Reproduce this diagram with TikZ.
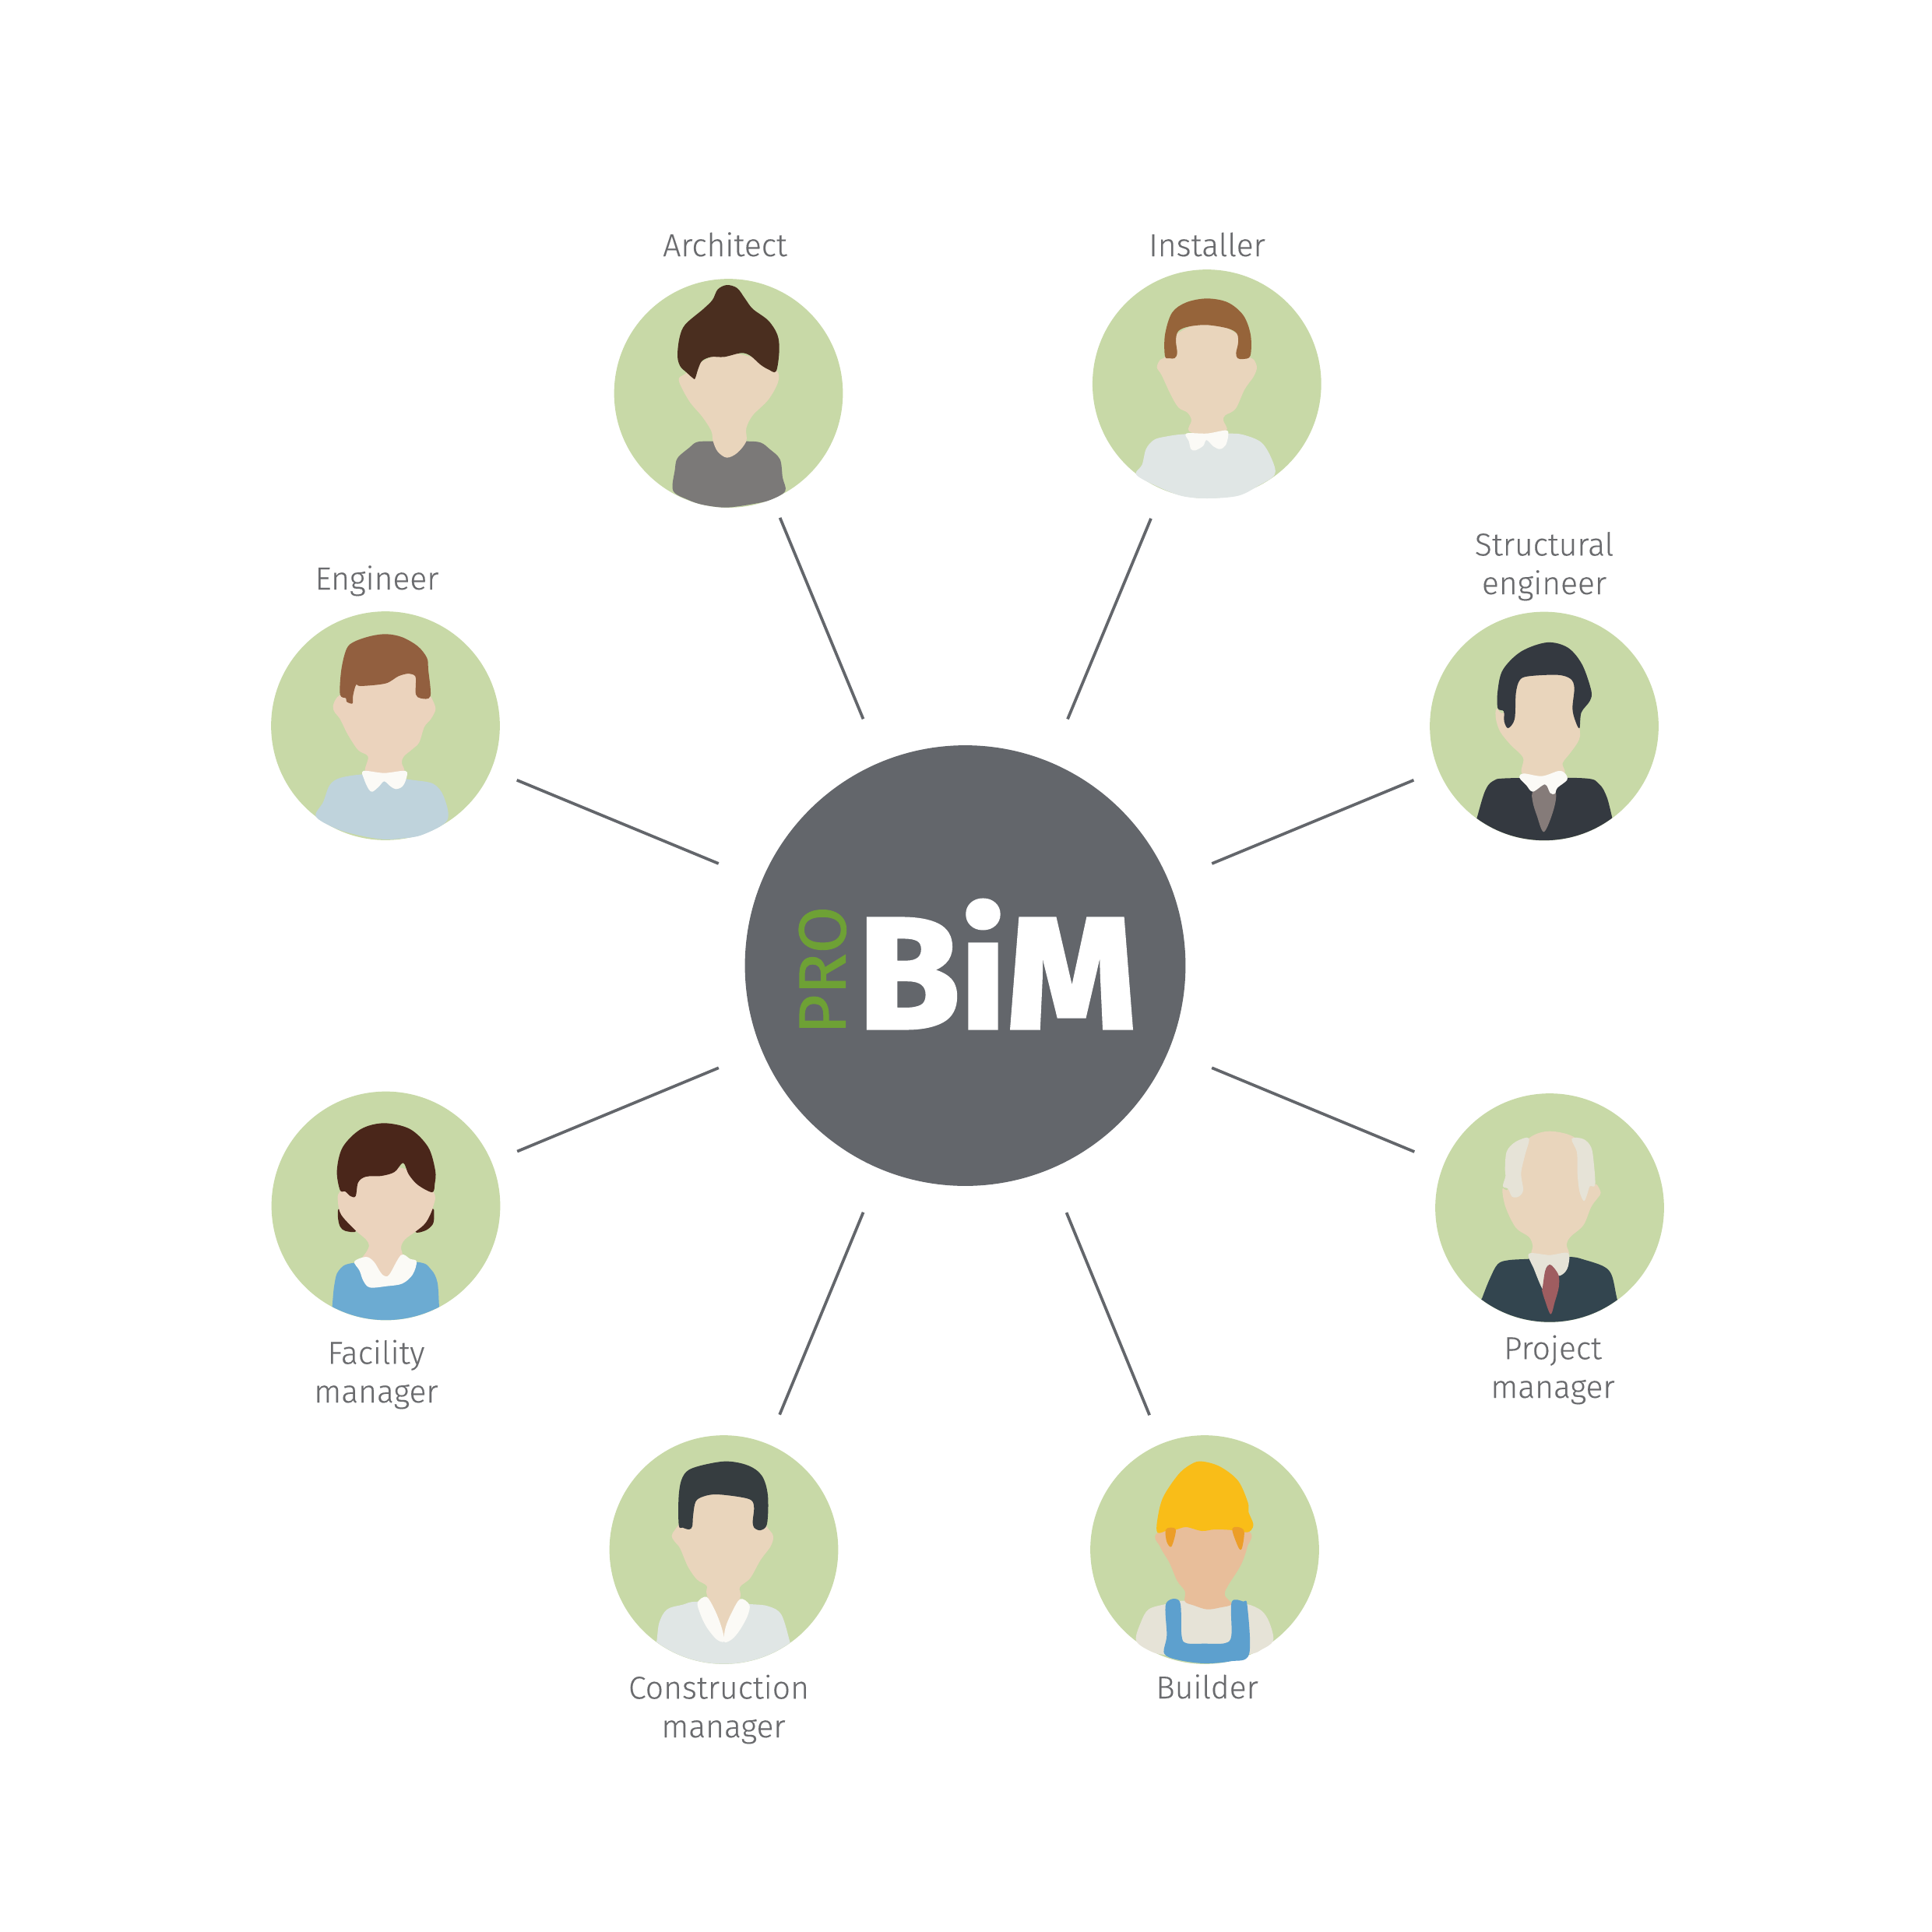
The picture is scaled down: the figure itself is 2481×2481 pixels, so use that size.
\documentclass[tikz,border=0pt]{standalone}
\usepackage{graphicx}
\usepackage{fontspec}
\newfontfamily\labelfont{Fira Sans Light}[FakeBold=0.25]
\newfontfamily\logofont{Fira Sans}[BoldFeatures={FakeBold=2.2}]
\newfontfamily\profont{Fira Sans}[FakeBold=1]
\definecolor{leaf}{HTML}{C8D9A7}
\definecolor{hubgrey}{HTML}{63666B}
\definecolor{textgrey}{HTML}{6A6B6E}
\definecolor{progreen}{HTML}{6EA135}
\definecolor{skin}{HTML}{E9D5BC}
\definecolor{skinpink}{HTML}{EBD3BD}
\definecolor{skintan}{HTML}{E8BE9A}
\definecolor{archhair}{HTML}{4A2E1F}
\definecolor{archtop}{HTML}{7B7978}
\definecolor{instbrown}{HTML}{96643A}
\definecolor{palegrey}{HTML}{E0E6E5}
\definecolor{collar}{HTML}{FBFAF6}
\definecolor{enghair}{HTML}{925F3F}
\definecolor{engshirt}{HTML}{BFD3DC}
\definecolor{slate}{HTML}{343940}
\definecolor{greytie}{HTML}{857B79}
\definecolor{fachair}{HTML}{4A261A}
\definecolor{facshirt}{HTML}{6CABD2}
\definecolor{oldhair}{HTML}{E6E3D7}
\definecolor{pmsuit}{HTML}{33454F}
\definecolor{pmtie}{HTML}{9F5D60}
\definecolor{conshair}{HTML}{363D40}
\definecolor{helmet}{HTML}{F9BD18}
\definecolor{orangehair}{HTML}{EC9E28}
\definecolor{overalls}{HTML}{5DA0CE}
\tikzset{every picture/.style={line width=0.75pt}}
\tikzset{
  hubdisc/.style={circle,fill=hubgrey,inner sep=0pt,minimum size=135.8pt},
  avatar/.style={circle,fill=leaf,inner sep=0pt,minimum size=70.5pt},
  spoke/.style={draw=hubgrey,line width=0.9pt,shorten <=14pt},
  rolelabel/.style={inner sep=0pt,anchor=base,align=center,text=textgrey,font=\labelfont\fontsize{9.8}{11.9}\selectfont},
  blob/.style={smooth cycle,tension=0.55}
}

\begin{document}
\begin{tikzpicture}[x=0.24pt,y=0.24pt,yscale=-1,xscale=1]
\useasboundingbox (0,0) rectangle (2481,2481);

%Shape: hub and avatars
\node [hubdisc] (hub) at (1239.5,1240) {};
\node [avatar] (architect) at (935.5,505) {};
\node [avatar] (installer) at (1549.8,493) {};
\node [avatar] (engineer) at (495,932) {};
\node [avatar] (structural) at (1983,932.5) {};
\node [avatar] (facility) at (495.5,1548.5) {};
\node [avatar] (project) at (1990,1551) {};
\node [avatar] (construction) at (929.5,1990) {};
\node [avatar] (builder) at (1547,1990) {};

%Straight Lines
\foreach \who/\cut in {architect/5.9,installer/9.3,engineer/8.2,structural/7.9,facility/8.2,project/9.5,construction/9.4,builder/9.2}
  \draw [spoke,shorten >=\cut pt] (hub) -- (\who);

% Text Node
\node [inner sep=0pt,text=white] (bimlogo) at (1280.5,1238) {\resizebox{85.9pt}{39.5pt}{\logofont\bfseries BiM}};
% Text Node
\node [inner sep=0pt,text=progreen,rotate=90] (prologo) at (1056.3,1246) {\resizebox{39.5pt}{14.4pt}{\profont PRO}};

%Architect
\begin{scope}[shift={(770,340)},scale=1/3]
\fill [archtop] plot [blob] coordinates {(283,870) (290,790) (300,745) (345,705) (375,683) (430,680) (565,680) (620,685) (655,710) (695,750) (705,820) (715,872) (660,905) (600,920) (490,935) (400,925) (340,905)};
\fill [skin] plot [blob] coordinates {(305,445) (345,525) (395,585) (430,640) (437,680) (455,720) (490,743) (530,725) (565,680) (565,630) (590,580) (650,520) (688,450) (680,405) (600,360) (490,340) (400,370) (330,420)};
\fill [archhair] plot [blob] coordinates {(455,95) (490,78) (530,90) (560,130) (590,170) (650,215) (685,270) (692,330) (680,410) (650,403) (620,385) (580,350) (545,340) (480,355) (430,355) (395,370) (380,400) (368,438) (360,437) (335,415) (310,390) (300,350) (308,280) (330,230) (400,170) (435,135)};
\end{scope}

%Installer
\begin{scope}[shift={(1390,330)},scale=1/3]
\fill [palegrey] plot [blob] coordinates {(207,838) (230,800) (245,740) (275,705) (320,692) (400,682) (560,680) (620,685) (690,715) (730,780) (741,838) (680,880) (600,920) (480,930) (380,920) (280,880)};
\fill [skin] plot [blob] coordinates {(287,425) (305,455) (340,530) (370,580) (405,600) (420,630) (410,670) (480,690) (555,670) (543,630) (550,610) (590,585) (625,510) (660,460) (672,425) (660,395) (640,380) (600,300) (480,250) (360,300) (320,382) (300,395)};
\fill [instbrown] plot [blob] coordinates {(318,382) (318,300) (345,215) (400,175) (480,160) (560,175) (620,225) (648,300) (647,380) (620,393) (598,390) (592,370) (600,330) (595,295) (560,275) (480,262) (410,268) (370,285) (360,320) (365,370) (355,390) (335,390)};
\fill [collar] plot [blob] coordinates {(400,680) (480,680) (552,668) (562,685) (552,725) (530,740) (505,730) (478,705) (465,728) (435,745) (418,740) (410,710)};
\end{scope}

%Engineer
\begin{scope}[shift={(330,700)},scale=1/3]
\fill [engshirt] plot [blob] coordinates {(227,1045) (255,990) (280,925) (320,897) (410,883) (480,890) (600,905) (680,920) (720,970) (733,1060) (640,1115) (560,1130) (480,1133) (380,1115) (300,1090)};
\fill [skinpink] plot [blob] coordinates {(293,620) (310,585) (350,560) (400,500) (490,470) (600,480) (650,560) (670,585) (688,630) (670,670) (645,700) (625,760) (600,785) (565,815) (558,840) (565,875) (490,885) (418,875) (428,815) (390,790) (350,730) (320,670) (300,645)};
\fill [enghair] plot [blob] coordinates {(320,575) (325,480) (345,400) (375,372) (440,350) (500,343) (560,355) (620,390) (655,435) (660,480) (668,582) (630,590) (612,575) (612,530) (610,505) (585,495) (545,505) (495,533) (400,543) (382,538) (370,580) (368,610) (345,603) (343,590)};
\fill [collar] plot [blob] coordinates {(410,870) (490,878) (572,870) (575,900) (560,930) (535,940) (515,930) (490,910) (470,930) (445,950) (430,940) (412,900)};
\end{scope}

%Structural engineer
\begin{scope}[shift={(1820,670)},scale=1/3]
\begin{scope}
\clip (489,787.5) circle (440);
\fill [slate] plot [blob] coordinates {(230,1140) (260,1040) (290,1000) (350,988) (640,988) (700,1010) (730,1060) (751,1140) (765,1190) (490,1300) (215,1190)};
\end{scope}
\fill [skin] plot [blob] coordinates {(305,720) (335,730) (380,560) (600,560) (625,790) (623,840) (590,890) (560,930) (560,975) (410,975) (408,910) (360,860) (320,810) (303,760)};
\fill [slate] plot [blob] coordinates {(310,718) (310,650) (330,570) (400,500) (500,465) (580,485) (635,550) (670,650) (665,690) (632,735) (625,795) (610,770) (598,720) (605,640) (590,605) (540,590) (430,595) (395,610) (380,660) (375,760) (350,795) (335,770) (333,730)};
\fill [greytie] plot [blob] coordinates {(445,1040) (490,1012) (533,1040) (525,1110) (488,1195) (460,1130) (445,1080)};
\fill [collar] plot [blob] coordinates {(393,985) (410,970) (480,980) (545,960) (570,970) (577,995) (540,1025) (530,1048) (512,1045) (492,1012) (445,1040) (420,1015)};
\end{scope}

%Facility manager
\begin{scope}[shift={(330,1390)},scale=1/3]
\begin{scope}
\clip (496.5,475.5) circle (440);
\fill [facshirt] plot [blob] coordinates {(290,862) (298,780) (315,725) (375,695) (615,692) (670,720) (695,770) (702,862) (710,920) (500,980) (285,920)};
\end{scope}
\fill [fachair] plot [blob] coordinates {(315,487) (345,510) (382,572) (340,572) (320,555) (312,520)};
\fill [fachair] plot [blob] coordinates {(678,487) (640,510) (610,575) (650,570) (678,545) (682,510)};
\fill [skinpink] plot [blob] coordinates {(312,460) (325,510) (380,570) (420,605) (432,630) (420,655) (400,690) (440,720) (470,735) (490,750) (512,742) (560,680) (555,635) (570,605) (610,575) (650,540) (678,480) (678,420) (560,330) (400,350) (320,420)};
\fill [collar] plot [blob] coordinates {(375,690) (420,672) (450,690) (475,730) (490,745) (510,740) (555,665) (590,680) (615,690) (600,740) (560,775) (500,785) (435,790) (410,765) (395,725)};
\fill [fachair] plot [blob] coordinates {(308,340) (330,250) (400,180) (490,157) (590,180) (660,250) (687,340) (685,390) (675,423) (620,395) (585,355) (563,310) (530,345) (480,360) (420,363) (390,385) (380,438) (360,438) (340,420) (320,415)};
\end{scope}

%Project manager
\begin{scope}[shift={(1830,1390)},scale=1/3]
\begin{scope}
\clip (480,483) circle (440);
\fill [pmsuit] plot [blob] coordinates {(220,830) (250,755) (280,700) (320,685) (400,680) (555,672) (620,685) (690,710) (720,745) (740,835) (760,890) (480,990) (200,890)};
\end{scope}
\fill [skin] plot [blob] coordinates {(298,410) (310,480) (350,560) (400,595) (415,630) (412,665) (480,672) (552,665) (545,625) (560,595) (610,550) (640,480) (665,445) (677,425) (660,392) (640,395) (610,300) (580,215) (480,188) (400,215) (340,300) (320,410)};
\fill [oldhair] plot [blob] coordinates {(400,215) (350,228) (315,265) (308,330) (310,360) (300,400) (320,410) (335,440) (360,440) (378,415) (370,350) (385,280)};
\fill [oldhair] plot [blob] coordinates {(565,217) (610,218) (640,250) (650,310) (655,395) (635,400) (625,430) (612,457) (595,420) (587,350) (585,270)};
\fill [oldhair] plot [blob] coordinates {(400,660) (480,665) (550,657) (553,700) (540,730) (515,745) (500,720) (480,702) (465,720) (460,770) (452,795) (420,720)};
\fill [pmtie] plot [blob] coordinates {(452,795) (463,725) (480,702) (497,715) (515,745) (515,790) (500,845) (484,893) (462,840) (450,800)};
\end{scope}

%Construction manager
\begin{scope}[shift={(770,1830)},scale=1/3]
\begin{scope}
\clip (478.5,480) circle (440);
\fill [palegrey] plot [blob] coordinates {(220,832) (230,760) (260,710) (320,692) (380,680) (580,690) (650,698) (700,730) (733,835) (745,890) (470,990) (210,890)};
\end{scope}
\fill [skin] plot [blob] coordinates {(278,425) (300,390) (400,250) (560,250) (640,385) (668,425) (660,465) (620,520) (580,590) (540,625) (540,670) (480,820) (415,660) (413,620) (375,595) (340,545) (310,475) (290,450)};
\fill [conshair] plot [blob] coordinates {(305,385) (305,270) (320,200) (360,165) (480,140) (570,155) (625,195) (648,270) (645,380) (620,405) (595,395) (590,370) (595,320) (585,290) (540,277) (450,267) (400,275) (370,295) (360,350) (357,390) (345,402) (320,395)};
\fill [collar] plot [blob] coordinates {(378,682) (412,662) (445,715) (470,780) (480,833) (450,825) (410,775) (385,720)};
\fill [collar] plot [blob] coordinates {(542,670) (577,692) (570,735) (540,790) (510,825) (480,835) (485,780) (510,720)};
\end{scope}

%Builder
\begin{scope}[shift={(1380,1830)},scale=1/3]
\fill [oldhair] plot [blob] coordinates {(237,830) (255,760) (285,710) (350,690) (425,677) (500,705) (605,690) (665,690) (720,715) (750,760) (765,830) (720,865) (672,883) (500,900) (345,885) (290,870)};
\fill [skintan] plot [blob] coordinates {(320,415) (330,470) (365,530) (395,600) (425,640) (425,680) (460,695) (510,710) (560,703) (605,690) (578,655) (590,620) (640,540) (665,470) (672,410) (500,350)};
\fill [overalls] plot [blob] coordinates {(352,688) (405,680) (412,810) (430,840) (500,842) (580,840) (604,810) (605,682) (650,680) (665,695) (672,883) (600,910) (500,918) (400,905) (345,880) (355,810)};
\fill [helmet] plot [blob] coordinates {(320,415) (318,370) (340,280) (400,190) (450,150) (490,140) (560,160) (630,215) (668,300) (670,335) (688,380) (680,405) (660,413) (610,405) (540,402) (490,408) (430,393) (390,403) (360,405)};
\fill [orangehair] plot [blob] coordinates {(350,405) (368,395) (390,405) (373,468) (355,450)};
\fill [orangehair] plot [blob] coordinates {(607,403) (630,393) (653,410) (645,473) (632,473)};
\end{scope}

% Text Node
\node [rolelabel] (lblarchitect) at (931,329) {Architect};
% Text Node
\node [rolelabel] (lblinstaller) at (1550,329) {Installer};
% Text Node
\node [rolelabel] (lblengineer) at (484,757) {Engineer};
% Text Node
\node [rolelabel] (lblstructural) at (1983,763) {Structural\\engineer};
% Text Node
\node [rolelabel] (lblfacility) at (483,1801) {Facility\\manager};
% Text Node
\node [rolelabel] (lblproject) at (1994,1795) {Project\\manager};
% Text Node
\node [rolelabel] (lblconstruction) at (929,2231) {Construction\hspace*{2.9pt}\\manager};
% Text Node
\node [rolelabel] (lblbuilder) at (1550,2181) {Builder};

\end{tikzpicture}
\end{document}
